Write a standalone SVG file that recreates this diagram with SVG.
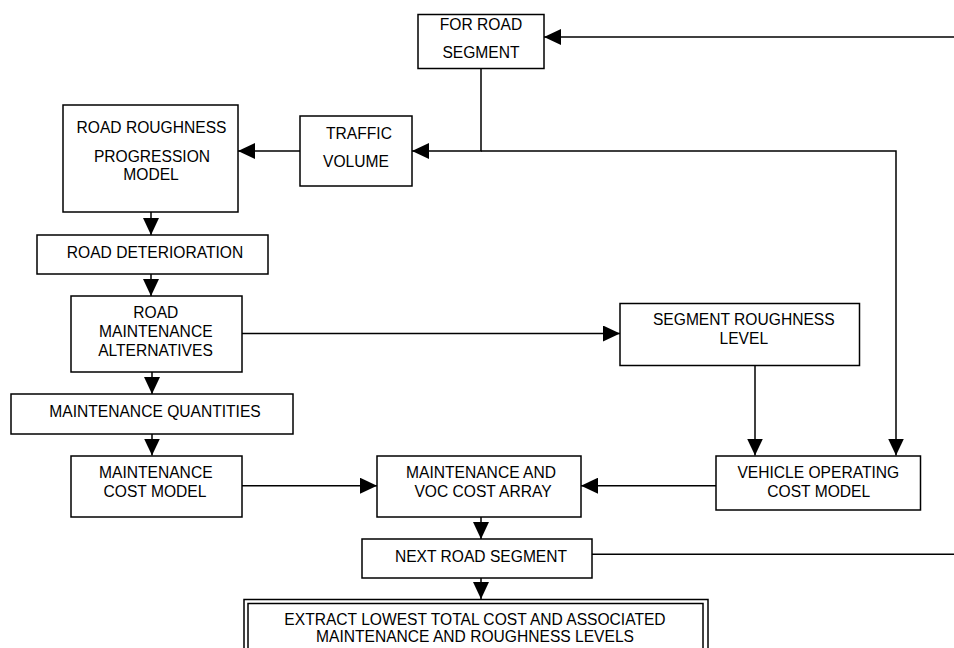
<svg xmlns="http://www.w3.org/2000/svg" width="954" height="648" viewBox="0 0 954 648">
<style>
.box{fill:#fff;stroke:#000;stroke-width:1.5}
.ln{fill:none;stroke:#000;stroke-width:1.5}
.arr{marker-end:url(#ah)}
text{font-family:"Liberation Sans",Arial,sans-serif;font-size:15.6px;fill:#000;text-anchor:middle}
</style>
<defs>
<marker id="ah" viewBox="0 0 17 16" refX="17" refY="8" markerWidth="17" markerHeight="16" markerUnits="userSpaceOnUse" orient="auto">
<path d="M0,0 L17,8 L0,16 Z" fill="#000"/>
</marker>
</defs>
<rect width="954" height="648" fill="#fff"/>
<g id="connectors">
<path class="ln arr" d="M954,37 H544"/>
<path class="ln arr" d="M481,69 V151 H412"/>
<path class="ln arr" d="M481,151 H896 V455.5"/>
<path class="ln arr" d="M300,151 H238"/>
<path class="ln arr" d="M151,212 V235"/>
<path class="ln arr" d="M151,274 V296"/>
<path class="ln arr" d="M152,372 V394"/>
<path class="ln arr" d="M152,434 V455.5"/>
<path class="ln arr" d="M242,333.5 H620"/>
<path class="ln arr" d="M755,365 V455.5"/>
<path class="ln arr" d="M242,485.7 H377"/>
<path class="ln arr" d="M716,485.7 H581"/>
<path class="ln arr" d="M481,517 V539"/>
<path class="ln arr" d="M481,578 V599"/>
<path class="ln" d="M592,554.3 H954"/>
</g>
<g id="for-road-segment">
<rect class="box" x="418" y="14.5" width="126" height="54"/>
<text x="481" y="30">FOR ROAD</text>
<text x="481" y="58.3">SEGMENT</text>
</g>
<g id="traffic-volume">
<rect class="box" x="300" y="116" width="112" height="70"/>
<text x="359" y="139">TRAFFIC</text>
<text x="356" y="166.7">VOLUME</text>
</g>
<g id="road-roughness">
<rect class="box" x="63" y="105" width="175" height="107"/>
<text x="151.5" y="133">ROAD ROUGHNESS</text>
<text x="152" y="161.7">PROGRESSION</text>
<text x="151" y="180">MODEL</text>
</g>
<g id="road-deterioration">
<rect class="box" x="37" y="235" width="231" height="39"/>
<text x="155" y="258">ROAD DETERIORATION</text>
</g>
<g id="road-maintenance-alternatives">
<rect class="box" x="71" y="296" width="171" height="76"/>
<text x="155.8" y="317.7">ROAD</text>
<text x="155.8" y="337.3">MAINTENANCE</text>
<text x="155.5" y="356">ALTERNATIVES</text>
</g>
<g id="maintenance-quantities">
<rect class="box" x="11" y="394" width="282" height="40"/>
<text x="155" y="416.7">MAINTENANCE QUANTITIES</text>
</g>
<g id="maintenance-cost-model">
<rect class="box" x="71" y="456" width="171" height="61"/>
<text x="155.8" y="478.3">MAINTENANCE</text>
<text x="155" y="497.3">COST MODEL</text>
</g>
<g id="maintenance-voc-cost-array">
<rect class="box" x="377" y="456" width="204" height="61"/>
<text x="481" y="477.7">MAINTENANCE AND</text>
<text x="483" y="496.7">VOC COST ARRAY</text>
</g>
<g id="segment-roughness-level">
<rect class="box" x="620" y="303.5" width="239.5" height="62"/>
<text x="743.8" y="325">SEGMENT ROUGHNESS</text>
<text x="743.8" y="344">LEVEL</text>
</g>
<g id="vehicle-operating-cost-model">
<rect class="box" x="716" y="456" width="204.5" height="54"/>
<text x="818.3" y="478">VEHICLE OPERATING</text>
<text x="818.7" y="496.7">COST MODEL</text>
</g>
<g id="next-road-segment">
<rect class="box" x="362" y="539" width="230" height="39"/>
<text x="481" y="561.7">NEXT ROAD SEGMENT</text>
</g>
<g id="extract-lowest-total-cost">
<rect class="box" x="244" y="599.5" width="464" height="60" stroke-width="2"/>
<rect class="box" x="248" y="603.5" width="455" height="52"/>
<text x="475" y="624.5">EXTRACT LOWEST TOTAL COST AND ASSOCIATED</text>
<text x="475" y="642">MAINTENANCE AND ROUGHNESS LEVELS</text>
</g>
</svg>
